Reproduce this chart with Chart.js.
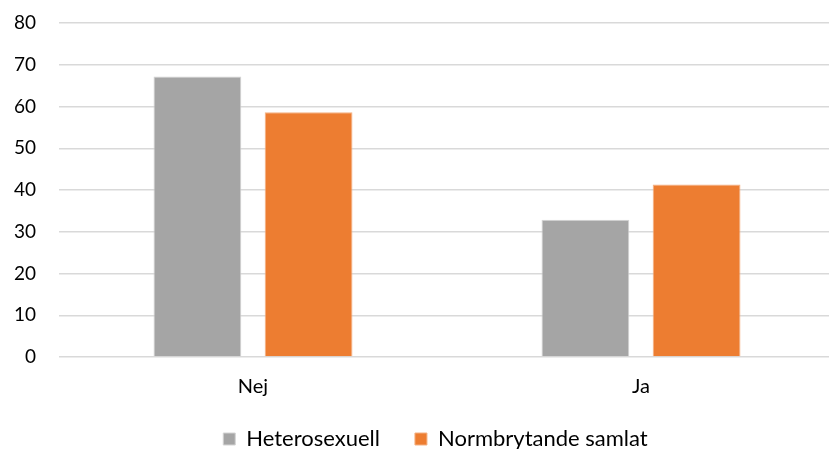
<!DOCTYPE html>
<html>
<head>
<meta charset="utf-8">
<script src="https://cdn.jsdelivr.net/npm/chart.js@4/dist/chart.umd.min.js"></script>
<style>
  html, body { margin: 0; padding: 0; background: #fff; overflow: hidden; }
  #wrap { width: 829px; height: 449px; overflow: hidden; }
</style>
</head>
<body>
<div id="wrap"><canvas id="chart" width="835" height="449"></canvas></div>
<script>
var categories = ['Nej', 'Ja'];
var hetero = [67.2, 32.9];
var normbrytande = [58.6, 41.3];
var yTicks = [0, 10, 20, 30, 40, 50, 60, 70, 80];

// nudge legend right and category labels down, like the original
var nudge = {
  id: 'nudge',
  afterLayout: function(chart) {
    chart.legend.left += 18;
    chart.legend.right += 18;
    var x = chart.scales.x;
    x.top += 12;
    x.bottom += 12;
  }
};

var ctx = document.getElementById('chart');
var myChart = new Chart(ctx, {
  type: 'bar',
  data: {
    labels: categories,
    datasets: [
      {
        label: 'Heterosexuell',
        data: hetero,
        backgroundColor: '#a5a5a5',
        borderColor: '#d4d4d4',
        borderWidth: 1,
        categoryPercentage: 0.573,
        barPercentage: 0.79
      },
      {
        label: 'Normbrytande samlat',
        data: normbrytande,
        backgroundColor: '#ed7d31',
        borderColor: '#f4b183',
        borderWidth: 1,
        categoryPercentage: 0.573,
        barPercentage: 0.79
      }
    ]
  },
  options: {
    responsive: false,
    devicePixelRatio: 1,
    animation: false,
    layout: { padding: { top: 23, right: 0, left: 0, bottom: -11 } },
    plugins: {
      tooltip: { enabled: false },
      legend: {
        position: 'bottom',
        labels: {
          font: { family: 'Lato', size: 22 },
          color: '#000',
          boxWidth: 12,
          boxHeight: 12,
          padding: 35
        }
      }
    },
    scales: {
      x: {
        grid: { display: false, drawTicks: false },
        border: { display: false },
        ticks: { font: { family: 'Lato', size: 20 }, color: '#000', padding: 6 }
      },
      y: {
        min: 0,
        max: 80,
        afterFit: function(scale) {
          scale.width = 59;
          scale.paddingTop = 0;
          scale.paddingBottom = 0;
        },
        afterBuildTicks: function(scale) {
          scale.ticks = yTicks.map(function(v) { return { value: v }; });
        },
        grid: { color: '#d9d9d9', lineWidth: 1.5, drawTicks: false },
        border: { display: false },
        ticks: { font: { family: 'Lato', size: 19 }, color: '#000', padding: 23 }
      }
    }
  },
  plugins: [nudge]
});
</script>
</body>
</html>
